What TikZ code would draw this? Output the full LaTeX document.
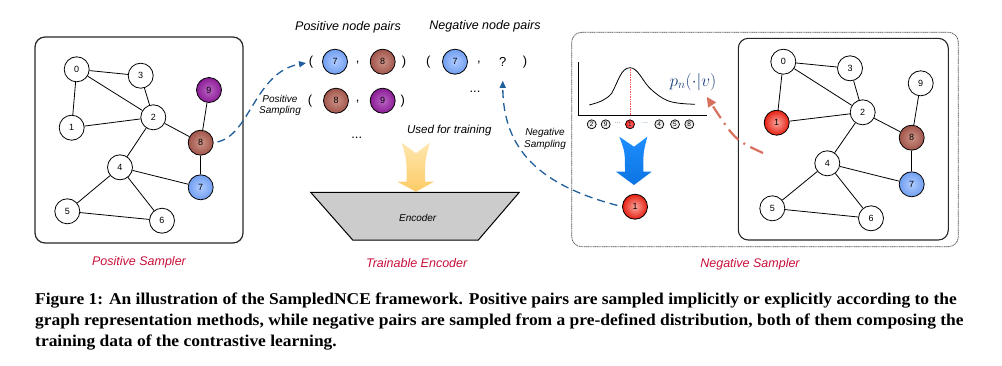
\documentclass[tikz,border=0pt]{standalone}
\usepackage{fontspec}
\setmainfont{Liberation Serif}
\setsansfont{Liberation Sans}
\usetikzlibrary{arrows.meta}
\definecolor{lblred}{HTML}{C8103A}
\definecolor{dblue}{HTML}{1F5E9A}
\definecolor{pncol}{HTML}{1B3F7A}
\definecolor{salmon}{HTML}{D8705E}
\definecolor{blueout}{HTML}{709EF0}
\definecolor{bluein}{HTML}{B0CCFF}
\definecolor{brownout}{HTML}{A0544A}
\definecolor{brownin}{HTML}{CE9488}
\definecolor{purpout}{HTML}{8A1C95}
\definecolor{purpin}{HTML}{BC66C6}
\definecolor{redout}{HTML}{E61E10}
\definecolor{redin}{HTML}{FAA8A0}
\definecolor{arrblue}{HTML}{1E8EFF}
\definecolor{arrblue2}{HTML}{0C74E2}
\definecolor{yel1}{HTML}{FFE6AE}
\definecolor{yel2}{HTML}{FCCB66}
\begin{document}
\begin{tikzpicture}[x=1pt,y=-1pt,font=\sffamily,
  gn/.style={circle,draw=black,line width=0.8pt,minimum size=25pt,inner sep=0pt,fill=white,font=\sffamily\fontsize{9}{9}\selectfont},
  bluen/.style={gn,inner color=bluein,outer color=blueout},
  brownn/.style={gn,inner color=brownin,outer color=brownout},
  purplen/.style={gn,inner color=purpin,outer color=purpout},
  redn/.style={gn,inner color=redin,outer color=redout},
  edge/.style={line width=0.8pt,black},
  lbl/.style={font=\sffamily\itshape\fontsize{12.5}{12.5}\selectfont},
  redlbl/.style={font=\sffamily\itshape\fontsize{12.5}{12.5}\selectfont,text=lblred},
  smalllbl/.style={font=\sffamily\itshape\fontsize{10}{11.5}\selectfont,align=center},
  paren/.style={font=\sffamily\fontsize{13}{13}\selectfont},
  dn/.style={circle,draw=black,line width=0.7pt,minimum size=9pt,inner sep=0pt,inner color=white,outer color=black!15,font=\sffamily\fontsize{6.5}{6.5}\selectfont},
  capline/.style={anchor=base west,inner sep=0pt,font=\rmfamily\bfseries\fontsize{16.5}{16.5}\selectfont},
  bluearr/.style={dblue,line width=1.3pt,dash pattern=on 8pt off 5pt,-{Triangle[length=7pt,width=6pt]}}
]
\useasboundingbox (0,0) rectangle (1002,365);
% ---------- left box ----------
\draw[line width=1.2pt,black!85,rounded corners=10pt] (35,37) rectangle (243,243);
\node[gn] (l0) at (76.7,69.3) {0};
\node[gn] (l3) at (140.7,75.7) {3};
\node[purplen] (l9) at (209,90) {9};
\node[gn] (l2) at (153.3,117.3) {2};
\node[gn] (l1) at (71.7,127.7) {1};
\node[brownn] (l8) at (200.7,142.7) {8};
\node[gn] (l4) at (120,167.3) {4};
\node[bluen] (l7) at (200.7,187.3) {7};
\node[gn] (l5) at (67.3,211.3) {5};
\node[gn] (l6) at (162,220.7) {6};
\foreach \a/\b in {0/3,0/2,0/1,3/2,1/2,2/8,2/4,9/8,8/7,4/7,4/5,4/6,5/6}
  \draw[edge] (l\a) -- (l\b);
\node[redlbl] (psamp) at (139,262) {Positive Sampler};
% ---------- middle ----------
\node[lbl] (ppairs) at (348,27) {Positive node pairs};
\node[lbl] (npairs) at (485,26) {Negative node pairs};
\node[paren] (p1o) at (311,61.7) {(};
\node[bluen] (p1a) at (335,61.7) {7};
\node[paren] (p1c) at (357.7,63) {,};
\node[brownn] (p1b) at (382.7,61.7) {8};
\node[paren] (p1e) at (404,61.7) {)};
\node[paren] (n1o) at (428.3,61.7) {(};
\node[bluen] (n1a) at (455,61.7) {7};
\node[paren] (n1c) at (479,63) {,};
\node[paren] (q) at (502.7,61.7) {?};
\node[paren] (n1e) at (525,61.7) {)};
\node[paren] (p2o) at (310,100.7) {(};
\node[brownn] (p2a) at (336,100.7) {8};
\node[paren] (p2c) at (357.7,102) {,};
\node[purplen] (p2b) at (382.7,100.7) {9};
\node[paren] (p2e) at (402.7,100.7) {)};
\node[paren] (ndots) at (475,92) {...};
\node[paren] (pdots) at (356.7,138) {...};
\node[smalllbl] (pslbl) at (280,105.5) {Positive\\Sampling};
\node[smalllbl] (nslbl) at (545,139) {Negative\\Sampling};
\node[font=\sffamily\itshape\fontsize{11.5}{11.5}\selectfont] (used) at (449.3,130.7) {Used for training};
% yellow arrow
\shade[top color=yel1,bottom color=yel2]
  (401.7,142.7) -- (416,153.3) -- (430,142.7) .. controls (425,160) .. (425,181.7)
  -- (434,181.7) -- (416,191.7) -- (397.3,181.7) -- (406.7,181.7)
  .. controls (406.7,160) .. (401.7,142.7) -- cycle;
% encoder
\draw[fill=black!20,line width=1pt] (310.7,192.3) -- (519.3,192.3) -- (478.3,240) -- (352.7,240) -- cycle;
\node[font=\sffamily\itshape\fontsize{10}{10}\selectfont] (enc) at (417.7,218.3) {Encoder};
\node[redlbl] (tenc) at (416.7,262.7) {Trainable Encoder};
% ---------- right ----------
\draw[black!70,line width=0.7pt,dash pattern=on 1.2pt off 0.6pt,rounded corners=10pt] (571.7,32.3) rectangle (958.3,246.7);
\draw[line width=1.1pt,black!85,rounded corners=10pt] (738.3,38.3) rectangle (948.3,240);
\node[gn] (r0) at (783.3,61.7) {0};
\node[gn] (r3) at (850,68.3) {3};
\node[gn] (r9) at (920.7,83.3) {9};
\node[gn] (r2) at (862.7,112.3) {2};
\node[redn] (r1) at (776.7,122.7) {1};
\node[brownn] (r8) at (911.7,137.7) {8};
\node[gn] (r4) at (827.3,163.3) {4};
\node[bluen] (r7) at (911.7,184.3) {7};
\node[gn] (r5) at (772.3,208.3) {5};
\node[gn] (r6) at (871,218.3) {6};
\foreach \a/\b in {0/3,0/2,0/1,3/2,1/2,2/8,2/4,9/8,8/7,4/7,4/5,4/6,5/6}
  \draw[edge] (r\a) -- (r\b);
\node[redlbl] (nsamp) at (750,264) {Negative Sampler};
% distribution
\draw[line width=0.8pt] (578.3,62.3) -- (578.3,115) -- (706.7,115);
\draw[line width=0.8pt] (589.3,105) .. controls (600,102) and (606,100) .. (611.7,93.3)
  .. controls (618,82) and (621,67.7) .. (630,67.7)
  .. controls (638,67.7) and (643,82) .. (650,88.3)
  .. controls (658,96) and (666,101) .. (673.3,102.3)
  .. controls (682,104) and (690,104) .. (695,104.3);
\draw[red!70,line width=0.7pt,densely dotted] (630,68.5) -- (630,115);
\node[text=pncol,font=\fontsize{17}{17}\selectfont] (pn) at (693,81.7) {$p_n(\cdot|v)$};
\node[dn] (d2) at (591.7,124.3) {2};
\node[dn] (d9) at (605.7,124.3) {9};
\node[text=dblue,font=\sffamily\fontsize{6}{6}\selectfont] (dd1) at (617.5,124) {···};
\node[dn,inner color=red!50,outer color=red!90] (d1) at (630,124.3) {1};
\node[text=dblue,font=\sffamily\fontsize{6}{6}\selectfont] (dd2) at (645,124) {···};
\node[dn] (d4) at (659.3,124.3) {4};
\node[dn] (d5) at (675,124.3) {5};
\node[dn] (d8) at (689.3,124.3) {8};
% blue arrow
\shade[top color=arrblue,bottom color=arrblue2]
  (619.3,136.7) -- (634,146.7) -- (647.3,136.7) .. controls (643.3,152) .. (643.3,171.7)
  -- (651.7,171.7) -- (634,185) -- (616,171.7) -- (625,171.7)
  .. controls (625,152) .. (619.3,136.7) -- cycle;
\node[redn] (m1) at (635,206.7) {1};
% ---------- connectors ----------
\coordinate (psend) at (306,63);
\draw[bluearr,shorten <=4pt] (l8.east) .. controls (250,135) and (255,72) .. (psend);
\draw[bluearr,shorten <=5pt,shorten >=11pt] (m1.west) .. controls (540,185) and (503,150) .. (q.south);
\coordinate (rstart) at (763,153);
\coordinate (rend) at (706.7,96.7);
\draw[salmon,line width=2.2pt,dash pattern=on 14pt off 6pt on 2pt off 6pt,-{Triangle[length=10pt,width=9pt]}] (rstart) .. controls (735,140) .. (rend);
% ---------- caption ----------
\node[capline] (cap1) at (35,304.5) {\scalebox{1.058}[1]{Figure 1: An illustration of the SampledNCE framework. Positive pairs are sampled implicitly or explicitly according to the}};
\node[capline] (cap2) at (35,325.5) {\scalebox{1.058}[1]{graph representation methods, while negative pairs are sampled from a pre-defined distribution, both of them composing the}};
\node[capline] (cap3) at (35,346.5) {\scalebox{1.058}[1]{training data of the contrastive learning.}};
\end{tikzpicture}
\end{document}
